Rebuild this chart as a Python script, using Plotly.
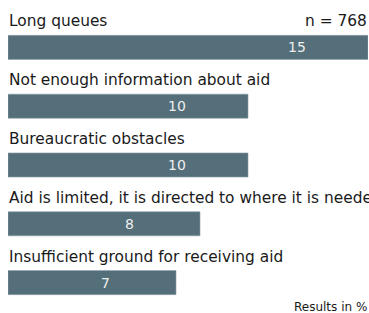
import plotly.graph_objects as go

categories = [
    "Long queues",
    "Not enough information about aid",
    "Bureaucratic obstacles",
    "Aid is limited, it is directed to where it is needed most",
    "Insufficient ground for receiving aid",
]
values = [15, 10, 10, 8, 7]
sample_note = "n = 768"
unit_note = "Results in %"

BAR_COLOR = "#546e7a"
FONT = "DejaVu Sans"

ypos = list(range(len(categories)))

fig = go.Figure(
    go.Bar(
        x=values,
        y=ypos,
        orientation="h",
        width=0.41,
        marker=dict(color=BAR_COLOR, line=dict(color="#8fa1aa", width=0.6)),
        hoverinfo="skip",
    )
)

annotations = []
for i, (cat, v) in enumerate(zip(categories, values)):
    annotations.append(dict(
        x=0, y=i, xref="x", yref="y", text=cat, showarrow=False,
        xanchor="left", yanchor="middle", yshift=26, xshift=-1,
        font=dict(family=FONT, size=15.4, color="#1a1a1a"),
    ))
    annotations.append(dict(
        x=v, y=i, xref="x", yref="y", text=str(v), showarrow=False,
        xanchor="center", yanchor="middle", xshift=-71,
        font=dict(family=FONT, size=14, color="#eeeeee"),
    ))

annotations.append(dict(
    x=1, y=1, xref="paper", yref="paper", text=sample_note, showarrow=False,
    xanchor="right", yanchor="middle", yshift=-3, xshift=1,
    font=dict(family=FONT, size=15.4, color="#1a1a1a"),
))
annotations.append(dict(
    x=1, y=0, xref="paper", yref="paper", text=unit_note, showarrow=False,
    xanchor="right", yanchor="middle", yshift=5, xshift=1,
    font=dict(family=FONT, size=12, color="#1a1a1a"),
))

fig.update_layout(
    width=369, height=313,
    margin=dict(l=8, r=1, t=18, b=1),
    paper_bgcolor="white", plot_bgcolor="white",
    showlegend=False,
    hovermode=False,
    xaxis=dict(range=[0, 15], visible=False, fixedrange=True),
    yaxis=dict(range=[4.5, -0.5], visible=False, fixedrange=True),
    annotations=annotations,
)

fig.write_html(
    "out.html",
    config={"displayModeBar": False, "staticPlot": True},
    post_script=(
        "document.body.style.margin='0';"
        "document.documentElement.style.overflow='hidden';"
        "document.body.style.overflow='hidden';"
    ),
)
